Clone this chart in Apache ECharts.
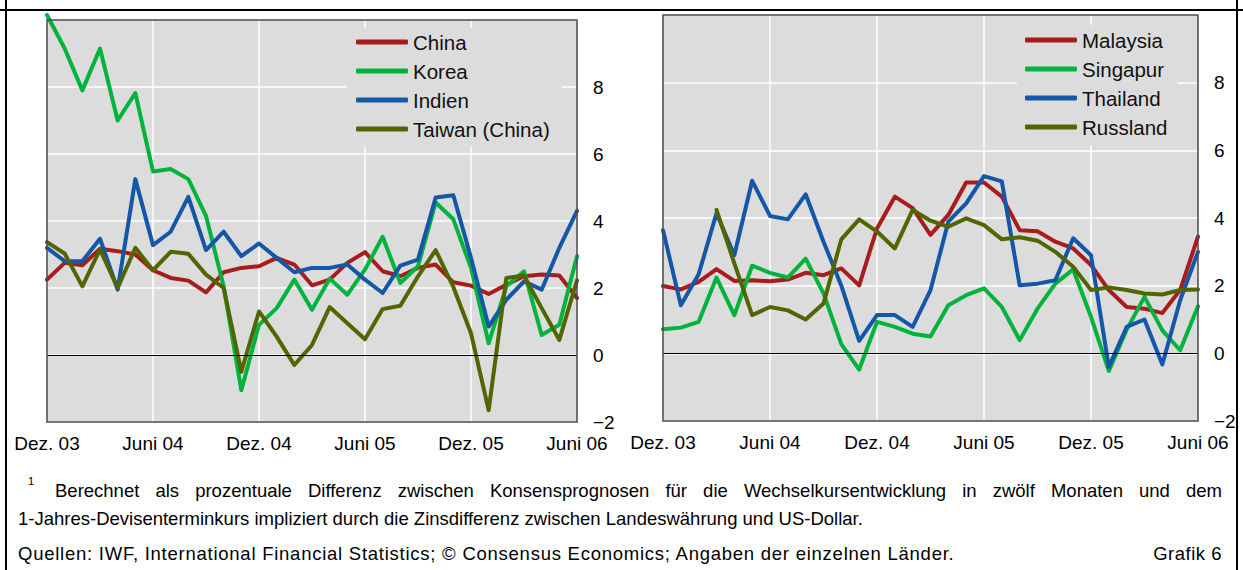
<!DOCTYPE html>
<html lang="de">
<head>
<meta charset="utf-8">
<title>Grafik 6</title>
<script src="https://cdn.jsdelivr.net/npm/echarts@6/dist/echarts.min.js"></script>
<style>
  body { margin: 0; background: #fff; }
  #wrap { position: relative; width: 1243px; height: 570px; overflow: hidden; font-family: "Liberation Sans", Arial, sans-serif; color: #000; }
  #chart { position: absolute; left: 0; top: 0; width: 1243px; height: 570px; }
  .rule { position: absolute; background: #000; }
  .note { position: absolute; font-size: 18.5px; line-height: 19px; white-space: nowrap; }
</style>
</head>
<body>
<div id="wrap">
  <div id="chart"></div>
  <div class="rule" style="left:0; top:9px; width:1243px; height:2px"></div>
  <div class="rule" style="left:5px; top:0; width:2px; height:570px"></div>
  <div class="rule" style="left:1236px; top:0; width:2px; height:570px"></div>
  <div class="note" style="left:28px; top:476px; font-size:11px; line-height:11px">1</div>
  <div class="note" style="left:55px; top:481px; width:1167px; text-align:justify; text-align-last:justify; white-space:normal">Berechnet als prozentuale Differenz zwischen Konsensprognosen für die Wechselkursentwicklung in zwölf Monaten und dem</div>
  <div class="note" style="left:18px; top:509px">1-Jahres-Devisenterminkurs impliziert durch die Zinsdifferenz zwischen Landeswährung und US-Dollar.</div>
  <div class="note" style="left:18px; top:544px; letter-spacing:0.75px">Quellen: IWF, International Financial Statistics; © Consensus Economics; Angaben der einzelnen Länder.</div>
  <div class="note" style="left:1130px; top:544px; width:92px; text-align:right; letter-spacing:0.5px">Grafik 6</div>
</div>
<script type="text/javascript">
// Monate Dez. 03 bis Juni 06
var months = ['Dez. 03', 'Jan. 04', 'Feb. 04', 'März 04', 'Apr. 04', 'Mai 04', 'Juni 04',
    'Juli 04', 'Aug. 04', 'Sep. 04', 'Okt. 04', 'Nov. 04', 'Dez. 04',
    'Jan. 05', 'Feb. 05', 'März 05', 'Apr. 05', 'Mai 05', 'Juni 05',
    'Juli 05', 'Aug. 05', 'Sep. 05', 'Okt. 05', 'Nov. 05', 'Dez. 05',
    'Jan. 06', 'Feb. 06', 'März 06', 'Apr. 06', 'Mai 06', 'Juni 06'];

// linkes Feld
var china  = [2.25, 2.75, 2.68, 3.17, 3.1, 3.0, 2.53, 2.3, 2.22, 1.87, 2.47, 2.6, 2.65, 2.9, 2.7, 2.08,
              2.25, 2.75, 3.07, 2.5, 2.35, 2.6, 2.7, 2.17, 2.07, 1.82, 2.1, 2.35, 2.4, 2.37, 1.7];
var korea  = [10.15, 9.15, 7.9, 9.15, 7.0, 7.82, 5.48, 5.55, 5.25, 4.15, 2.05, -1.05, 0.9, 1.4, 2.25, 1.35,
              2.28, 1.8, 2.55, 3.53, 2.15, 2.65, 4.55, 4.05, 2.6, 0.35, 2.05, 2.5, 0.6, 0.9, 2.95];
var indien = [3.2, 2.8, 2.8, 3.47, 1.95, 5.25, 3.28, 3.68, 4.72, 3.13, 3.68, 2.95, 3.33, 2.9, 2.47, 2.6,
              2.6, 2.7, 2.25, 1.85, 2.67, 2.85, 4.7, 4.77, 2.9, 0.85, 1.65, 2.2, 1.95, 3.2, 4.3];
var taiwan = [3.37, 3.03, 2.05, 3.15, 2.0, 3.2, 2.53, 3.08, 3.02, 2.4, 2.0, -0.5, 1.3, 0.55, -0.3, 0.3,
              1.43, 0.95, 0.47, 1.37, 1.47, 2.35, 3.13, 2.03, 0.65, -1.65, 2.3, 2.37, 1.4, 0.45, 2.23];

// rechtes Feld
var malaysia = [1.99, 1.89, 2.11, 2.49, 2.14, 2.16, 2.13, 2.18, 2.38, 2.31, 2.51, 2.01, 3.69, 4.63, 4.29, 3.5,
                4.09, 5.05, 5.05, 4.63, 3.64, 3.61, 3.3, 3.1, 2.61, 1.87, 1.37, 1.32, 1.19, 1.87, 3.45];
var singapur = [0.71, 0.76, 0.93, 2.24, 1.13, 2.59, 2.38, 2.24, 2.8, 1.77, 0.27, -0.48, 0.93, 0.78, 0.58, 0.5,
                1.42, 1.72, 1.92, 1.37, 0.39, 1.32, 2.06, 2.48, 1.08, -0.52, 0.7, 1.67, 0.68, 0.09, 1.39];
var thailand = [3.64, 1.42, 2.34, 4.14, 2.9, 5.1, 4.06, 3.96, 4.7, 3.3, 2.0, 0.37, 1.13, 1.13, 0.78, 1.87,
                3.89, 4.43, 5.24, 5.08, 2.01, 2.06, 2.16, 3.4, 2.9, -0.4, 0.78, 1.0, -0.33, 1.57, 3.0];
var russland = [null, null, null, 4.24, 2.66, 1.13, 1.37, 1.27, 1.0, 1.47, 3.37, 3.96, 3.6, 3.1, 4.24, 3.92,
                3.74, 3.99, 3.79, 3.37, 3.43, 3.33, 3.0, 2.56, 1.87, 1.95, 1.87, 1.77, 1.74, 1.87, 1.89];

var namesLeft = ['China', 'Korea', 'Indien', 'Taiwan (China)'];
var namesRight = ['Malaysia', 'Singapur', 'Thailand', 'Russland'];
var colors = ['#a81c1c', '#00b33c', '#1457a8', '#526600'];

var font = '"Liberation Sans", Arial, sans-serif';
var grids = [
    {left: 47, top: 20, width: 530, height: 402},
    {left: 663, top: 15, width: 535, height: 406}
];

function xAxisFor(idx) {
    return {
        type: 'category', gridIndex: idx, data: months, boundaryGap: false,
        axisLine: {show: false}, axisTick: {show: false},
        axisLabel: {interval: 5, fontSize: 19, color: '#000', margin: 12, fontFamily: font},
        splitLine: {
            show: true,
            interval: function (i) { return i % 6 === 0 && i !== 0 && i !== months.length - 1; },
            lineStyle: {color: '#fff', width: 1.5}
        }
    };
}
function yAxisFor(idx) {
    return {
        type: 'value', gridIndex: idx, position: 'right', min: -2, max: 10, interval: 2,
        axisLine: {show: false}, axisTick: {show: false},
        axisLabel: {
            fontSize: 19, color: '#000', margin: 16, fontFamily: font,
            formatter: function (v) {
                if (v === 10) return '';
                return v < 0 ? '\u2212' + (-v) : String(v);
            }
        },
        splitLine: {lineStyle: {color: '#fff', width: 1.5}}
    };
}
function lineSeries(name, data, idx, k) {
    var s = {
        name: name, type: 'line', data: data, xAxisIndex: idx, yAxisIndex: idx,
        showSymbol: false, symbol: 'none', clip: false,
        lineStyle: {color: colors[k], width: 4, cap: 'round', join: 'round'},
        itemStyle: {color: colors[k]}
    };
    if (k === 0) {
        s.markLine = {
            silent: true, symbol: 'none', label: {show: false},
            lineStyle: {color: '#000', width: 1, type: 'solid'},
            data: [{yAxis: 0}]
        };
    }
    return s;
}
function legendFor(names, left, top, padding) {
    return {
        data: names, orient: 'vertical', left: left, top: top, padding: padding,
        backgroundColor: '#dcdcdc', itemWidth: 52, itemHeight: 5, itemGap: 7,
        icon: 'roundRect', selectedMode: false,
        textStyle: {fontSize: 20.5, lineHeight: 22, color: '#111', fontFamily: font}
    };
}
// Rahmen der Plotflächen über den Gitterlinien
function frame(g) {
    return {
        type: 'rect', z: 50, silent: true,
        shape: {x: g.left, y: g.top, width: g.width, height: g.height},
        style: {fill: 'none', stroke: '#4a4a4a', lineWidth: 1.5}
    };
}

var chart = echarts.init(document.getElementById('chart'), null, {renderer: 'svg'});
var option = {
    animation: false,
    textStyle: {fontFamily: font},
    grid: grids.map(function (g) {
        return {left: g.left, top: g.top, width: g.width, height: g.height,
                show: true, backgroundColor: '#dcdcdc', borderWidth: 0};
    }),
    xAxis: [xAxisFor(0), xAxisFor(1)],
    yAxis: [yAxisFor(0), yAxisFor(1)],
    legend: [
        legendFor(namesLeft, 347, 28, [3, 12, 7, 9]),
        legendFor(namesRight, 1017, 25, [4, 10, 7, 8])
    ],
    graphic: grids.map(frame),
    series: [
        lineSeries(namesLeft[0], china, 0, 0),
        lineSeries(namesLeft[1], korea, 0, 1),
        lineSeries(namesLeft[2], indien, 0, 2),
        lineSeries(namesLeft[3], taiwan, 0, 3),
        lineSeries(namesRight[0], malaysia, 1, 0),
        lineSeries(namesRight[1], singapur, 1, 1),
        lineSeries(namesRight[2], thailand, 1, 2),
        lineSeries(namesRight[3], russland, 1, 3)
    ]
};
chart.setOption(option);
</script>
</body>
</html>
